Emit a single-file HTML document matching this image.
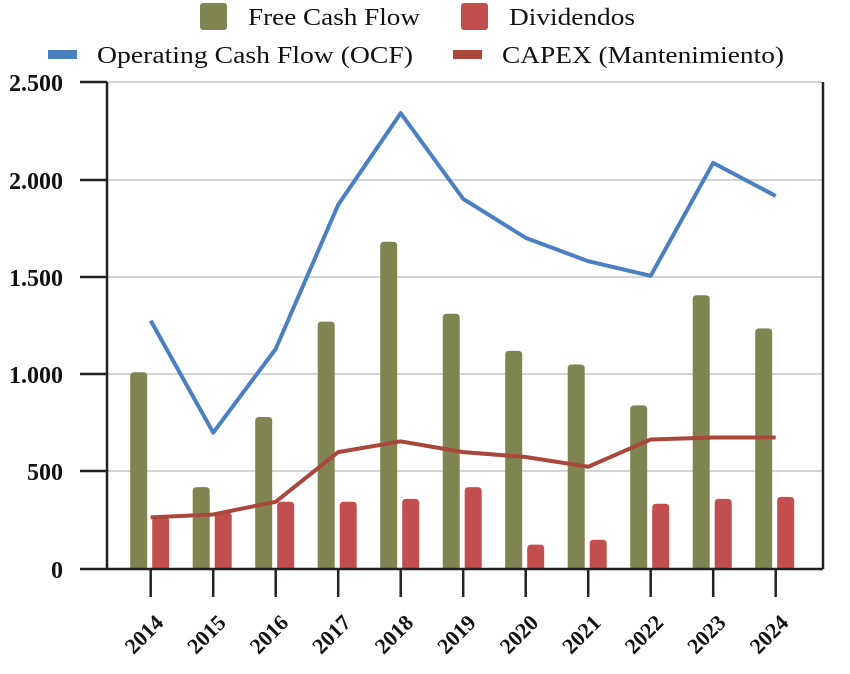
<!DOCTYPE html>
<html><head><meta charset="utf-8"><style>html,body{margin:0;padding:0;background:#fff}svg{display:block}</style></head>
<body>
<svg id="s" width="850" height="674" viewBox="0 0 850 674" xmlns="http://www.w3.org/2000/svg" font-family="Liberation Serif, serif">
<g stroke="#d4d4d4" stroke-width="2">
<line x1="107" y1="82" x2="822" y2="82"/>
<line x1="107" y1="180" x2="822" y2="180"/>
<line x1="107" y1="277" x2="822" y2="277"/>
<line x1="107" y1="374" x2="822" y2="374"/>
<line x1="107" y1="471" x2="822" y2="471"/>
</g>
<g id="bars"></g>
<g stroke="#222" stroke-width="2.5" fill="none">
<line x1="107" y1="82" x2="107" y2="569"/>
<line x1="823" y1="82" x2="823" y2="569"/>
<line x1="80" y1="569" x2="823" y2="569"/>
<line x1="80" y1="82" x2="107" y2="82"/>
<line x1="80" y1="180" x2="107" y2="180"/>
<line x1="80" y1="277" x2="107" y2="277"/>
<line x1="80" y1="374" x2="107" y2="374"/>
<line x1="80" y1="471" x2="107" y2="471"/>
</g>
<g id="ticks" stroke="#222" stroke-width="2.5"></g>
<g font-size="24" font-weight="bold" fill="#111" text-anchor="end">
<text x="63" y="91">2.500</text>
<text x="63" y="189">2.000</text>
<text x="63" y="286">1.500</text>
<text x="63" y="383">1.000</text>
<text x="63" y="480">500</text>
<text x="63" y="578">0</text>
</g>
<g id="xl" font-size="22" font-weight="bold" fill="#111" text-anchor="end"></g>
<polyline id="ocf" fill="none" stroke="#4a7fc1" stroke-width="4" stroke-linejoin="round"/>
<polyline id="capex" fill="none" stroke="#a8473a" stroke-width="4" stroke-linejoin="round"/>
<rect x="200" y="3" width="27" height="27" rx="3" fill="#7f8450"/>
<text x="248" y="25" font-size="24" fill="#111" textLength="172" lengthAdjust="spacingAndGlyphs">Free Cash Flow</text>
<rect x="461" y="3" width="27" height="27" rx="3" fill="#c24e4e"/>
<text x="509" y="25" font-size="24" fill="#111" textLength="126" lengthAdjust="spacingAndGlyphs">Dividendos</text>
<rect x="48" y="50" width="29" height="9" fill="#4a7fc1"/>
<text x="97" y="63" font-size="24" fill="#111" textLength="316" lengthAdjust="spacingAndGlyphs">Operating Cash Flow (OCF)</text>
<rect x="453" y="50" width="29" height="9" fill="#a8473a"/>
<text x="502" y="63" font-size="24" fill="#111" textLength="282" lengthAdjust="spacingAndGlyphs">CAPEX (Mantenimiento)</text>
<script>
var NS='http://www.w3.org/2000/svg';
function el(par,tag,attrs,txt){var e=document.createElementNS(NS,tag);for(var k in attrs)e.setAttribute(k,attrs[k]);if(txt)e.textContent=txt;document.getElementById(par).appendChild(e);return e;}
var ocf=[1275,700,1130,1870,2340,1900,1700,1580,1505,2085,1915];
var fcf=[1010,420,780,1270,1680,1310,1120,1050,840,1405,1235];
var dv=[265,290,345,345,360,420,125,150,335,360,370];
var cx=[265,280,345,600,655,600,575,525,665,675,675];
function Y(v){return 569-v*0.1948;}
var p1=[],p2=[];
for(var i=0;i<11;i++){var x=150.7+62.5*i;
el('bars','path',{d:'M'+(x-20.5)+' 569 V'+(Y(fcf[i])+4)+' q0 -4 4 -4 h9 q4 0 4 4 V569z',fill:'#7f8450'});
el('bars','path',{d:'M'+(x+1.5)+' 569 V'+(Y(dv[i])+4)+' q0 -4 4 -4 h9 q4 0 4 4 V569z',fill:'#c24e4e'});
el('ticks','line',{x1:x,y1:569,x2:x,y2:597});
el('xl','text',{transform:'translate('+(x+14)+',624) rotate(-45)'},String(2014+i));
p1.push(x+','+Y(ocf[i]));p2.push(x+','+Y(cx[i]));}
document.getElementById('ocf').setAttribute('points',p1.join(' '));
document.getElementById('capex').setAttribute('points',p2.join(' '));
</script>
</svg>
</body></html>
